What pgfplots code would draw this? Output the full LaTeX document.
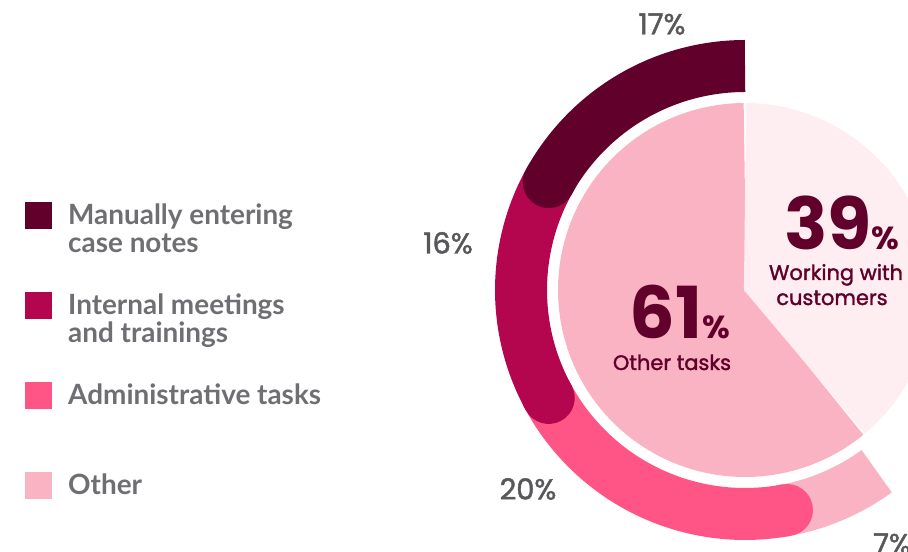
\documentclass[border=0pt]{standalone}
\usepackage{pgfplots}
\pgfplotsset{compat=1.18}
\usepackage{fontspec}
\setmainfont{Lato}
\newfontfamily\pop[BoldFeatures={FakeBold=1.6}, BoldFont=Poppins]{Poppins}
\newfontfamily\popb{Poppins}

\definecolor{cDark}{HTML}{61002A}
\definecolor{cMag}{HTML}{B4064F}
\definecolor{cPink}{HTML}{FF5486}
\definecolor{cLight}{HTML}{FAB3C3}
\definecolor{cPale}{HTML}{FFEEF1}
\definecolor{cLeg}{HTML}{6F6E73}
\definecolor{cPct}{HTML}{58585B}

% shares in percent
\def\pWork{39}  % working with customers
\def\pOther{61} % other tasks
\def\pNotes{17} % manually entering case notes
\def\pMeet{16}  % internal meetings and trainings
\def\pAdmin{20} % administrative tasks
\def\pMisc{7}   % other

\pgfmathsetmacro\aWork{90-3.6*\pWork}
\pgfmathsetmacro\aOther{90+3.6*\pOther}
\pgfmathsetmacro\aNotes{90+3.6*\pNotes}
\pgfmathsetmacro\aMeet{\aNotes+3.6*\pMeet}
\pgfmathsetmacro\aAdmin{\aMeet+3.6*\pAdmin}
\pgfmathsetmacro\aMisc{\aAdmin+3.6*\pMisc}

\begin{document}
\begin{tikzpicture}
\path[use as bounding box] (0,0) rectangle (908bp,552bp);
\begin{axis}[
  at={(0,0)}, anchor=south west,
  scale only axis, width=908bp, height=552bp,
  xmin=0, xmax=908, ymin=0, ymax=552,
  hide axis,
  legend image code/.code={\fill[#1] (0bp,9bp) rectangle (27bp,36bp);},
  legend cell align=left,
  legend style={at={(axis cs:22,353)}, anchor=north west, draw=none, fill=none,
    font=\bfseries\fontsize{28}{28}\selectfont, text=cLeg,
    row sep=17bp, column sep=16bp,
    nodes={inner sep=0pt, text height=23bp, text depth=50bp}},
  pie/.style={line width=187bp, line join=round, forget plot},
  ring/.style={line width=52bp, forget plot},
]
\addlegendimage{draw=none, fill=cDark}
\addlegendentry{\parbox[t]{300bp}{Manually entering\\case notes}}
\addlegendimage{draw=none, fill=cMag}
\addlegendentry{\parbox[t]{300bp}{Internal meetings\\and trainings}}
\addlegendimage{draw=none, fill=cPink}
\addlegendentry{Administrative tasks}
\addlegendimage{draw=none, fill=cLight}
\addlegendentry{Other}

% inner pie
\addplot[pie, cLight, domain=90:\aOther, samples=160] ({745+93.5*cos(x)},{262+93.5*sin(x)});
\addplot[pie, cPale, domain=\aWork:90, samples=120] ({745+93.5*cos(x)},{262+93.5*sin(x)});

% outer ring, drawn last to first so each rounded end overlaps the next piece
\addplot[ring, cLight, domain=\aAdmin:\aMisc, samples=30] ({745+224*cos(x)},{262+224*sin(x)});
\addplot[ring, cPink, domain=\aMeet:\aAdmin, samples=70] ({745+224*cos(x)},{262+224*sin(x)});
\addplot[ring, cPink, line cap=round, domain=\aAdmin-1:\aAdmin, samples=2] ({745+224*cos(x)},{262+224*sin(x)});
\addplot[ring, cMag, domain=\aNotes:\aMeet, samples=60] ({745+224*cos(x)},{262+224*sin(x)});
\addplot[ring, cMag, line cap=round, domain=\aMeet-1:\aMeet, samples=2] ({745+224*cos(x)},{262+224*sin(x)});
\addplot[ring, cDark, domain=90:\aNotes, samples=60] ({745+224*cos(x)},{262+224*sin(x)});
\addplot[ring, cDark, line cap=round, domain=\aNotes-1:\aNotes, samples=2] ({745+224*cos(x)},{262+224*sin(x)});

% labels
\begin{scope}[every node/.style={font=\pop\bfseries\fontsize{29}{29}\selectfont, text=cPct}]
\node at (axis cs:662,528) {\pNotes\%};
\node at (axis cs:448,309) {\pMeet\%};
\node at (axis cs:528,63) {\pAdmin\%};
\node at (axis cs:892,8) {\pMisc\%};
\end{scope}
\node[anchor=base, text=cDark, inner sep=0pt] at (axis cs:842,302)
  {\popb\bfseries\fontsize{72}{72}\selectfont\pWork\fontsize{32}{32}\selectfont\%};
\node[anchor=base, text=cDark, inner sep=0pt, font=\pop\bfseries\fontsize{21}{21}\selectfont] at (axis cs:836,272) {Working with};
\node[anchor=base, text=cDark, inner sep=0pt, font=\pop\bfseries\fontsize{21}{21}\selectfont] at (axis cs:832,247) {customers};
\node[anchor=base, text=cDark, inner sep=0pt] at (axis cs:680,213)
  {\popb\bfseries\fontsize{72}{72}\selectfont\pOther\fontsize{32}{32}\selectfont\%};
\node[anchor=base, text=cDark, inner sep=0pt, font=\pop\bfseries\fontsize{21}{21}\selectfont] at (axis cs:672,182) {Other tasks};
\end{axis}
\end{tikzpicture}
\end{document}
